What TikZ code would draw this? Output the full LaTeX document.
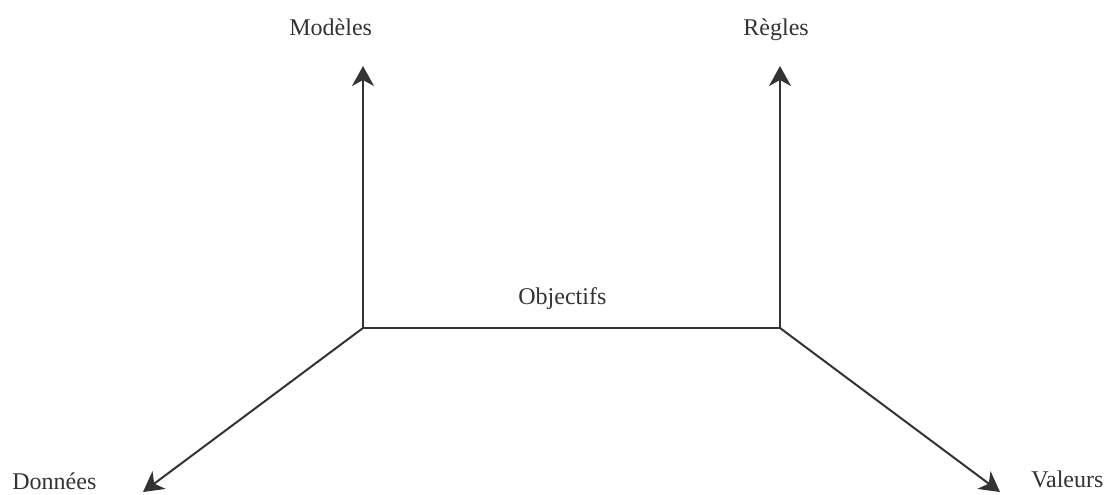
\documentclass[tikz,border=0pt]{standalone}
\usepackage{fontspec}
\setmainfont{Liberation Serif}
\usetikzlibrary{arrows.meta}
\definecolor{ink}{HTML}{333333}
\tikzset{
  axis/.style={draw=ink, line width=1pt, -{Stealth[length=10pt,width=11pt,inset=3pt]}},
  link/.style={draw=ink, line width=1pt},
  lbl/.style={inner sep=0pt, anchor=base west, text=ink, font=\fontsize{12}{14}\selectfont}
}
\begin{document}
\begin{tikzpicture}[x=0.5pt,y=-0.5pt]
\useasboundingbox (0,0) rectangle (1111,494);
\coordinate (jl) at (363,328);
\coordinate (jr) at (780,328);
\coordinate (tm) at (363,66);
\coordinate (tr) at (780,66);
\coordinate (td) at (143,492);
\coordinate (tv) at (1000,492);
\node[lbl] (modeles) at (289,35) {Modèles};
\node[lbl] (regles) at (743,35) {Règles};
\node[lbl] (objectifs) at (518,304) {Objectifs};
\node[lbl] (donnees) at (12,489) {Données};
\node[lbl] (valeurs) at (1031,487) {Valeurs};
\draw[link] (jl) -- (jr);
\draw[axis] (jl) -- (tm);
\draw[axis] (jr) -- (tr);
\draw[axis] (jl) -- (td);
\draw[axis] (jr) -- (tv);
\end{tikzpicture}
\end{document}
